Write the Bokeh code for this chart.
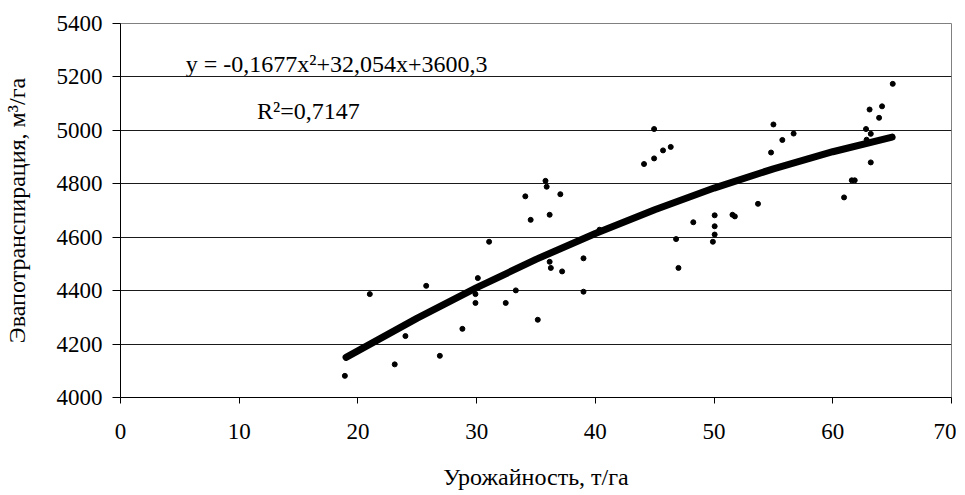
from bokeh.plotting import figure
from bokeh.models import Label, Range1d, FixedTicker
from bokeh.embed import file_html
from bokeh.resources import INLINE

# Observed data (yield t/ha, evapotranspiration m3/ha)
yield_t = [18.9, 21.0, 23.1, 24.0, 25.75, 26.9, 28.8, 29.9, 29.9, 30.1,
           31.05, 32.45, 33.3, 34.1, 34.55, 35.15, 35.8, 35.9, 36.15, 36.15,
           36.25, 37.05, 37.2, 39.0, 39.0, 40.35, 44.1, 44.95, 44.95, 45.7,
           46.35, 46.8, 47.0, 48.25, 49.9, 50.05, 50.05, 50.05, 51.55, 51.75,
           53.7, 54.8, 55.0, 55.75, 56.7, 60.95, 61.6, 61.85, 62.8, 62.85,
           63.1, 63.2, 63.2, 63.9, 64.15, 65.05]
evapo = [4081, 4387, 4124, 4230, 4418, 4156, 4257, 4387, 4354, 4447,
         4583, 4354, 4401, 4753, 4665, 4291, 4811, 4789, 4684, 4508,
         4485, 4761, 4472, 4521, 4396, 4628, 4874, 5005, 4895, 4925,
         4938, 4593, 4485, 4656, 4583, 4682, 4641, 4610, 4684, 4678,
         4725, 4917, 5022, 4964, 4988, 4749, 4813, 4813, 5005, 4965,
         5078, 4987, 4880, 5047, 5090, 5174]

# Trend curve
trend_x = [19, 25, 30, 35, 40, 45, 50, 55, 60, 65]
trend_y = [4150, 4297, 4411, 4517, 4614, 4703, 4784, 4856, 4920, 4975]

x_ticks = [0, 10, 20, 30, 40, 50, 60, 70]
y_ticks = [4000, 4200, 4400, 4600, 4800, 5000, 5200, 5400]

equation_text = "y = -0,1677x\u00b2+32,054x+3600,3"
r2_text = "R\u00b2=0,7147"

FONT = "Liberation Serif"

p = figure(width=956, height=492, output_backend="svg", toolbar_location=None,
           x_range=Range1d(0, 70), y_range=Range1d(4000, 5400),
           min_border_left=120, min_border_right=5, min_border_top=23,
           min_border_bottom=95)

p.background_fill_color = "white"
p.border_fill_color = "white"
p.outline_line_color = "#808080"
p.outline_line_width = 1

p.xgrid.grid_line_color = None
p.ygrid.grid_line_color = "#1a1a1a"
p.ygrid.grid_line_width = 1
p.ygrid.ticker = FixedTicker(ticks=y_ticks)

p.xaxis.ticker = FixedTicker(ticks=x_ticks)
p.yaxis.ticker = FixedTicker(ticks=y_ticks)

for ax in (p.xaxis[0], p.yaxis[0]):
    ax.axis_line_color = "black"
    ax.axis_line_width = 1
    ax.major_tick_line_color = "black"
    ax.major_tick_in = 0
    ax.minor_tick_line_color = None
    ax.major_label_text_font = FONT
    ax.major_label_text_font_size = "23px"
    ax.major_label_text_color = "black"
    ax.axis_label_text_font = FONT
    ax.axis_label_text_font_size = "24px"
    ax.axis_label_text_font_style = "normal"
    ax.axis_label_text_color = "black"

p.xaxis.major_tick_out = 6
p.yaxis.major_tick_out = 8
p.xaxis.major_label_standoff = 20
p.yaxis.major_label_standoff = 10
p.xaxis.axis_label = "Урожайность, т/га"
p.yaxis.axis_label = "Эвапотранспирация, м\u00b3/га"
p.xaxis.axis_label_standoff = 22
p.yaxis.axis_label_standoff = 24

# trend curve
p.line(trend_x, trend_y, line_color="black", line_width=7, line_cap="round",
       line_join="round")

# observed points
p.scatter(yield_t, evapo, size=5, marker="circle", fill_color="black",
          line_color="black")

p.add_layout(Label(x=5.5, y=5250, text=equation_text, text_font=FONT,
                   text_font_size="24px", text_color="black",
                   text_baseline="middle", text_align="left"))
p.add_layout(Label(x=11.5, y=5074, text=r2_text, text_font=FONT,
                   text_font_size="24px", text_color="black",
                   text_baseline="middle", text_align="left"))

open("out.html", "w").write(file_html(p, INLINE))
